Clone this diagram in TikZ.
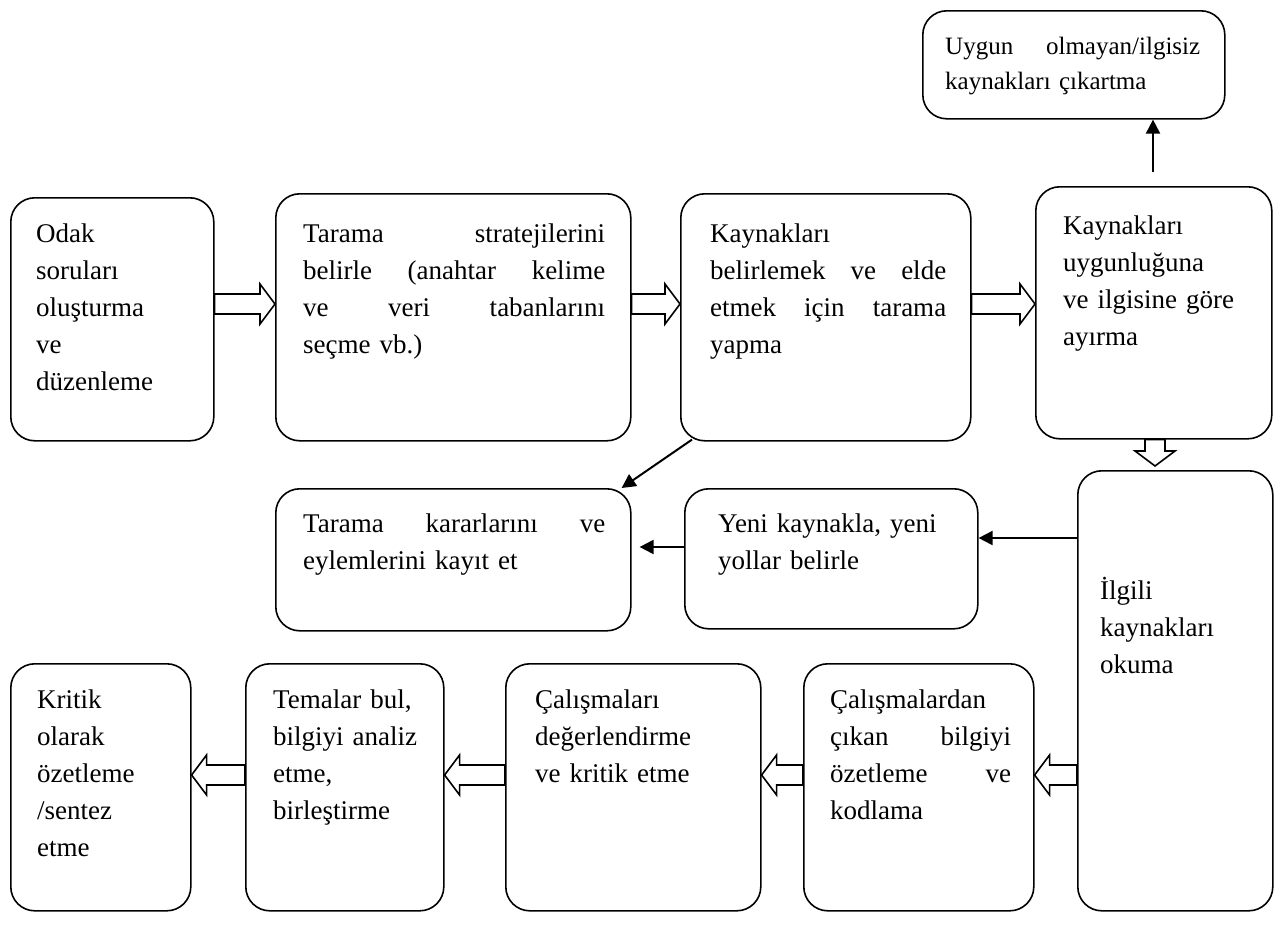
\documentclass[tikz,border=0pt]{standalone}
\usepackage{fontspec}
\setmainfont{Liberation Serif}
\usetikzlibrary{calc,arrows.meta}
\newcommand\jl[2]{\makebox[#1][s]{\spaceskip=.25em plus 1fil\relax #2}}
\newcommand\harrow[2]{%
 \coordinate (hA) at (#1); \coordinate (hB) at (#2);
 \coordinate (hH) at ($(hB)!15pt!(hA)$);
 \draw[hollow] ($(hA)!10pt!90:(hB)$) -- ($(hH)!10pt!90:(hB)$) -- ($(hH)!20pt!90:(hB)$) -- (hB) -- ($(hH)!20pt!-90:(hB)$) -- ($(hH)!10pt!-90:(hB)$) -- ($(hA)!10pt!-90:(hB)$) -- cycle;}
\begin{document}
\begin{tikzpicture}[x=1pt,y=-1pt,
 box/.style={draw, line width=1.6pt, rounded corners=24pt, anchor=north west, inner sep=0pt},
 txt/.style={anchor=base west, inner sep=0pt, align=left, font=\fontsize{27}{37}\selectfont},
 hollow/.style={draw, line width=1.6pt, fill=white, line join=miter},
 arr/.style={line width=2pt, -{Triangle[length=14pt,width=14pt]}}]
\useasboundingbox (0,0) rectangle (1275,927);
% boxes
\node[box, minimum width=203pt, minimum height=243pt] (b1) at (10,197) {};
\node[box, minimum width=355pt, minimum height=247pt] (b2) at (275,193) {};
\node[box, minimum width=290pt, minimum height=247pt] (b3) at (680,193) {};
\node[box, minimum width=236pt, minimum height=252pt] (b4) at (1035,186) {};
\node[box, minimum width=302pt, minimum height=108pt] (b5) at (922,10) {};
\node[box, minimum width=355pt, minimum height=142pt] (b6) at (275,488) {};
\node[box, minimum width=293pt, minimum height=140pt] (b7) at (684,488) {};
\node[box, minimum width=195pt, minimum height=440pt] (b8) at (1077,470) {};
\node[box, minimum width=230pt, minimum height=247pt] (b9) at (803,663) {};
\node[box, minimum width=255pt, minimum height=247pt] (b10) at (505,663) {};
\node[box, minimum width=198pt, minimum height=247pt] (b11) at (245,663) {};
\node[box, minimum width=180pt, minimum height=247pt] (b12) at (10,663) {};
% texts
\node[txt, text width=170pt] (t1) at (36,242) {Odak\\soruları\\oluşturma\\ve\\düzenleme};
\node[txt, text width=302pt] (t2) at (303,242) {\jl{302pt}{Tarama stratejilerini}\\\jl{302pt}{belirle (anahtar kelime}\\\jl{302pt}{ve veri tabanlarını}\\seçme vb.)};
\node[txt, text width=236pt] (t3) at (710,242) {Kaynakları\\\jl{236pt}{belirlemek ve elde}\\\jl{236pt}{etmek için tarama}\\yapma};
\node[txt, text width=200pt] (t4) at (1063,234) {Kaynakları\\uygunluğuna\\ve ilgisine göre\\ayırma};
\node[txt, text width=255pt, font=\fontsize{25}{35}\selectfont] (t5) at (945,54) {\jl{255pt}{Uygun olmayan/ilgisiz}\\kaynakları çıkartma};
\node[txt, text width=302pt] (t6) at (303,532) {\jl{302pt}{Tarama kararlarını ve}\\eylemlerini kayıt et};
\node[txt, text width=240pt] (t7) at (718,532) {Yeni kaynakla, yeni\\yollar belirle};
\node[txt, text width=160pt] (t8) at (1100,599) {İlgili\\kaynakları\\okuma};
\node[txt, text width=181pt] (t9) at (830,708) {Çalışmalardan\\\jl{181pt}{çıkan bilgiyi}\\\jl{181pt}{özetleme ve}\\kodlama};
\node[txt, text width=215pt] (t10) at (535,708) {Çalışmaları\\değerlendirme\\ve kritik etme};
\node[txt, text width=165pt] (t11) at (273,708) {Temalar bul,\\bilgiyi analiz\\etme,\\birleştirme};
\node[txt, text width=145pt] (t12) at (37,708) {Kritik\\olarak\\özetleme\\/sentez\\etme};
% hollow arrows
\harrow{b1.east |- 0,304}{b2.west |- 0,304}
\harrow{b2.east |- 0,304}{b3.west |- 0,304}
\harrow{b3.east |- 0,304}{b4.west |- 0,304}
\harrow{1155,0 |- b4.south}{$(1155,0 |- b8.north)+(0,-4)$}
\harrow{b8.west |- 0,775}{b9.east |- 0,775}
\harrow{b9.west |- 0,775}{b10.east |- 0,775}
\harrow{b10.west |- 0,775}{b11.east |- 0,775}
\harrow{b11.west |- 0,775}{b12.east |- 0,775}
% line arrows
\coordinate (upstart) at ($(b4.north -| 1153,0)+(0,-14)$);
\draw[arr] (upstart) -- (upstart |- b5.south);
\draw[arr] ($(b3.south west)+(12,-2)$) -- ($(b6.north east)+(-10,0)$);
\draw[arr] (b8.west |- 0,538) -- (b7.east |- 0,538);
\draw[arr] (b7.west |- 0,547) -- ($(b6.east |- 0,547)+(8,0)$);
\end{tikzpicture}
\end{document}
